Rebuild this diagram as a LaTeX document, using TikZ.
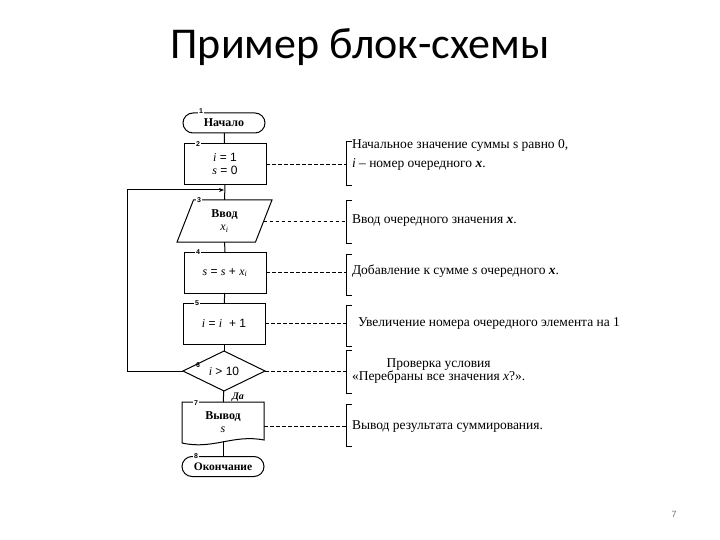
\documentclass[tikz,border=0pt]{standalone}
\usepackage{fontspec}
\setmainfont{Liberation Serif}
\newfontfamily\titlefont{Carlito}
\newfontfamily\arialf{Liberation Sans}
\usetikzlibrary{shapes.geometric,arrows.meta,calc}
\begin{document}
\begin{tikzpicture}[x=1pt,y=-1pt,
  every node/.style={inner sep=0pt, outer sep=0pt},
  line/.style={line width=1pt},
  blk/.style={draw, line width=1pt, minimum width=82pt, minimum height=41pt, align=center, font=\arialf\fontsize{12}{14}\selectfont},
  term/.style={draw, line width=1pt, rounded corners=10pt, minimum width=82pt, minimum height=20pt, font=\bfseries\fontsize{12}{14}\selectfont},
  io/.style={draw, line width=1pt, trapezium, trapezium left angle=73, trapezium right angle=107, trapezium stretches=true, minimum width=95pt, minimum height=42pt, align=center, font=\bfseries\fontsize{12}{13}\selectfont},
  dec/.style={draw, line width=1pt, diamond, minimum width=82pt, minimum height=40pt, font=\arialf\fontsize{12}{14}\selectfont},
  num/.style={fill=white, inner sep=1pt, font=\arialf\bfseries\fontsize{7}{7}\selectfont},
  dsh/.style={line width=0.9pt, dash pattern=on 3.5pt off 2.5pt},
  brk/.style={line width=1pt},
  cmt/.style={anchor=west, align=left, font=\fontsize{13.5}{19}\selectfont}
]
\useasboundingbox (0,0) rectangle (720,540);
\node[font=\titlefont\fontsize{44}{46}\selectfont] (title) at (360,47) {Пример блок-схемы};

% blocks
\node[term] (n1) at (224,123) {Начало};
\node[blk] (n2) at (225,164) {$\mathit{i}$ = 1\\[-1pt] $\mathit{s}$ = 0};
\node[io] (n3) at (224.5,221) {Ввод\\ $\mathit{x}_{\mathit{i}}$};
\node[blk] (n4) at (225,272.5) {$\mathit{s}$ = $\mathit{s}$ + $\mathit{x}_{\mathit{i}}$};
\node[blk] (n5) at (224,323.5) {$\mathit{i}$ = $\mathit{i}$\ \ + 1};
\node[dec] (n6) at (224,371) {$\mathit{i}$ > 10};
\node[minimum width=82pt, minimum height=40pt, align=center, font=\bfseries\fontsize{12}{13}\selectfont] (n7) at (223,422) {Вывод\\ $\mathit{s}$};
\draw[line] (n7.north west) -- (n7.north east) -- ($(n7.south east)+(0,-2)$)
  .. controls ($(n7.south)+(10,-8)$) and ($(n7.south)+(-10,8)$) .. ($(n7.south west)+(0,1)$) -- cycle;
\node[term, font=\bfseries\fontsize{11.5}{14}\selectfont] (n8) at (223,466.5) {Окончание};

% numbers
\node[num] at (201,111) {1};
\node[num] at (198,144) {2};
\node[num] at (199,200) {3};
\node[num] at (198,252) {4};
\node[num] at (197,303) {5};
\node[num, fill=none] at (198,365) {6};
\node[num] at (196,403) {7};
\node[num] at (196,456) {8};
\node[font=\bfseries\itshape\fontsize{10}{10}\selectfont] (yes) at (238,397) {Да};

% flow
\draw[line] (n1) -- (n2);
\draw[line] (n2) -- (n3);
\draw[line] (n3) -- (n4);
\draw[line] (n4) -- (n5);
\draw[line] (n5) -- (n6);
\draw[line] (n6) -- (n7);
\draw[line] (n7.south) ++(0,-1) -- (n8);
\coordinate (m) at (224,190);
\coordinate (lp) at (127,371);
\draw[line, -{Stealth[length=5pt,width=4pt]}] (n6.west) -- (lp) |- (m);

% comment brackets
\foreach \nm/\yy/\hh in {b2/164/22, b3/222/21, b4/274.5/20.5, b5/325.5/20.5, b6/371.5/21.5, b7/425/21}{
  \coordinate (\nm) at (346,\yy);
  \draw[brk] ($(\nm)+(6,-\hh)$) -- ($(\nm)+(0,-\hh)$) -- ($(\nm)+(0,\hh)$) -- ($(\nm)+(6,\hh)$);
}
\draw[dsh] (n2.east) -- (n2.east -| b2);
\draw[dsh] (n3.east) -- (n3.east -| b3);
\draw[dsh] (n4.east) -- (n4.east -| b4);
\draw[dsh] (n5.east) -- (n5.east -| b5);
\draw[dsh] (n6.east) -- (n6.east -| b6);
\draw[dsh] ($(n7.east)+(0,4)$) -- ($(n7.east -| b7)+(0,4)$);

\node[cmt] (c2) at (352,155) {Начальное значение суммы s равно 0,\\ $\mathit{i}$ – номер очередного \textit{\textbf{x}}.};
\node[cmt] (c3) at (352,221) {Ввод очередного значения \textit{\textbf{x}}.};
\node[cmt] (c4) at (352,271) {Добавление к сумме \textit{s} очередного \textit{\textbf{x}}.};
\node[cmt] (c5) at (358,323) {Увеличение номера очередного элемента на 1};
\node[cmt, align=center, font=\fontsize{13.5}{12}\selectfont] (c6) at (352,371) {Проверка условия\\ «Перебраны все значения \textit{x}?».};
\node[cmt] (c7) at (352,427) {Вывод результата суммирования.};

\node[font=\arialf\fontsize{9}{9}\selectfont, text=black!55] (pg) at (674,514) {7};
\end{tikzpicture}
\end{document}
